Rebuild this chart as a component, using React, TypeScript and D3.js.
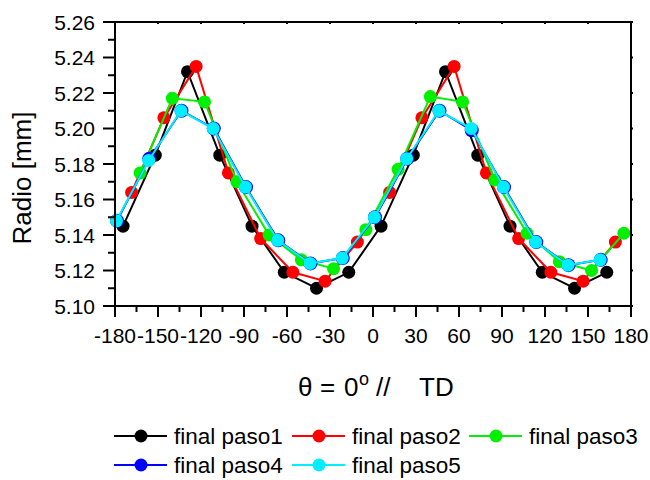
import React from "react";
import * as d3 from "d3";

const angles1 = [-174.4, -151.9, -129.4, -106.9, -84.4, -61.9, -39.4, -16.9, 5.6, 28.1, 50.6, 73.1, 95.6, 118.1, 140.6, 163.1];
const paso1 = [5.145, 5.185, 5.232, 5.185, 5.145, 5.119, 5.110, 5.119, 5.145, 5.185, 5.232, 5.185, 5.145, 5.119, 5.110, 5.119];

const angles2 = [-168.4, -145.9, -123.4, -100.9, -78.4, -55.9, -33.4, -10.9, 11.6, 34.1, 56.6, 79.1, 101.6, 124.1, 146.6, 169.1];
const paso2 = [5.164, 5.206, 5.235, 5.175, 5.138, 5.119, 5.114, 5.136, 5.164, 5.206, 5.235, 5.175, 5.138, 5.119, 5.114, 5.136];

const angles3 = [-162.5, -140, -117.5, -95, -72.5, -50, -27.5, -5, 17.5, 40, 62.5, 85, 107.5, 130, 152.5, 175];
const paso3 = [5.175, 5.217, 5.215, 5.170, 5.140, 5.126, 5.121, 5.143, 5.177, 5.218, 5.215, 5.171, 5.141, 5.125, 5.120, 5.141];

const angles4 = [-178.6, -156.1, -133.6, -111.1, -88.6, -66.1, -43.6, -21.1, 1.4, 23.9, 46.4, 68.9, 91.4, 113.9, 136.4, 158.9];
const paso4 = [5.148, 5.183, 5.210, 5.200, 5.167, 5.137, 5.124, 5.127, 5.150, 5.183, 5.210, 5.199, 5.167, 5.136, 5.123, 5.126];

const angles5 = [-179, -156.5, -134, -111.5, -89, -66.5, -44, -21.5, 1, 23.5, 46, 68.5, 91, 113.5, 136, 158.5];
const paso5 = [5.148, 5.182, 5.210, 5.200, 5.167, 5.137, 5.124, 5.127, 5.150, 5.183, 5.210, 5.200, 5.167, 5.136, 5.123, 5.126];

const seriesNames = ["final paso1", "final paso2", "final paso3", "final paso4", "final paso5"];
const seriesColors = ["#000000", "#ff0000", "#00f000", "#0000ff", "#00eeff"];

const xTicks = [-180, -150, -120, -90, -60, -30, 0, 30, 60, 90, 120, 150, 180];
const yTicks = [5.10, 5.12, 5.14, 5.16, 5.18, 5.20, 5.22, 5.24, 5.26];

const W = 650, H = 480;
const L = 115, R = 631, T = 22, B = 306;
const FONT = "'Liberation Sans', Arial, sans-serif";

export default function App() {
  const x = d3.scaleLinear().domain([-180, 180]).range([L, R]);
  const y = d3.scaleLinear().domain([5.10, 5.26]).range([B, T]);
  const series = [
    { a: angles1, v: paso1 },
    { a: angles2, v: paso2 },
    { a: angles3, v: paso3 },
    { a: angles4, v: paso4 },
    { a: angles5, v: paso5 },
  ];
  const line = d3.line<[number, number]>().x(d => x(d[0])).y(d => y(d[1]));
  const xMinor = d3.range(-165, 180, 30);
  const yMinor = d3.range(0, 8).map(i => 5.11 + i * 0.02);

  const legendPos = [
    { lx: 114, ly: 436 }, { lx: 292, ly: 436 }, { lx: 469, ly: 436 },
    { lx: 114, ly: 465 }, { lx: 292, ly: 465 },
  ];

  return (
    <svg width={W} height={H} style={{ position: "absolute", left: 0, top: 0, background: "#fff" }} fontFamily={FONT}>
      <rect x={0} y={0} width={W} height={H} fill="#fff" />
      {series.map((s, i) => {
        const pts = s.a.map((a, j) => [a, s.v[j]] as [number, number]);
        return (
          <g key={i}>
            <path d={line(pts) || ""} fill="none" stroke={seriesColors[i]} strokeWidth={2} />
            {pts.map((p, j) => (
              <circle key={j} cx={x(p[0])} cy={y(p[1])} r={i === 3 ? 7 : 6.5} fill={seriesColors[i]} />
            ))}
          </g>
        );
      })}
      {/* frame */}
      <rect x={L} y={T} width={R - L} height={B - T} fill="none" stroke="#000" strokeWidth={2} />
      {/* x ticks */}
      {xTicks.map(t => (
        <g key={"xt" + t}>
          <line x1={x(t)} x2={x(t)} y1={B} y2={B + 11} stroke="#000" strokeWidth={2} />
          <line x1={x(t)} x2={x(t)} y1={T} y2={T + 2} stroke="#000" strokeWidth={2} />
          <text x={x(t)} y={343} textAnchor="middle" fontSize={21}>{t}</text>
        </g>
      ))}
      {xMinor.map(t => (
        <line key={"xm" + t} x1={x(t)} x2={x(t)} y1={B} y2={B + 6} stroke="#000" strokeWidth={2} />
      ))}
      {/* y ticks */}
      {yTicks.map(t => (
        <g key={"yt" + t}>
          <line x1={L - 12} x2={L} y1={y(t)} y2={y(t)} stroke="#000" strokeWidth={2} />
          <line x1={R} x2={R + 2} y1={y(t)} y2={y(t)} stroke="#000" strokeWidth={2} />
          <text x={95} y={y(t)} dy="0.36em" textAnchor="end" fontSize={21}>{t.toFixed(2)}</text>
        </g>
      ))}
      {yMinor.map(t => (
        <line key={"ym" + t} x1={L - 7} x2={L} y1={y(t)} y2={y(t)} stroke="#000" strokeWidth={2} />
      ))}
      {/* axis titles */}
      <text transform={`translate(31,${(T + B) / 2 + 14}) rotate(-90)`} textAnchor="middle" fontSize={26}>Radio [mm]</text>
      <text y={396} fontSize={26}>
        <tspan x={298}>θ</tspan>
        <tspan x={320}>=</tspan>
        <tspan x={344}>0</tspan>
        <tspan x={359} fontSize={18} dy={-11}>o</tspan>
        <tspan x={376} dy={11}>//</tspan>
        <tspan x={419}>TD</tspan>
      </text>
      {/* legend */}
      {seriesNames.map((n, i) => {
        const p = legendPos[i];
        return (
          <g key={n}>
            <line x1={p.lx} x2={p.lx + 53} y1={p.ly} y2={p.ly} stroke={seriesColors[i]} strokeWidth={2} />
            <circle cx={p.lx + 27} cy={p.ly} r={6.5} fill={seriesColors[i]} />
            <text x={p.lx + 60} y={p.ly} dy="0.36em" fontSize={22.5}>{n}</text>
          </g>
        );
      })}
    </svg>
  );
}
